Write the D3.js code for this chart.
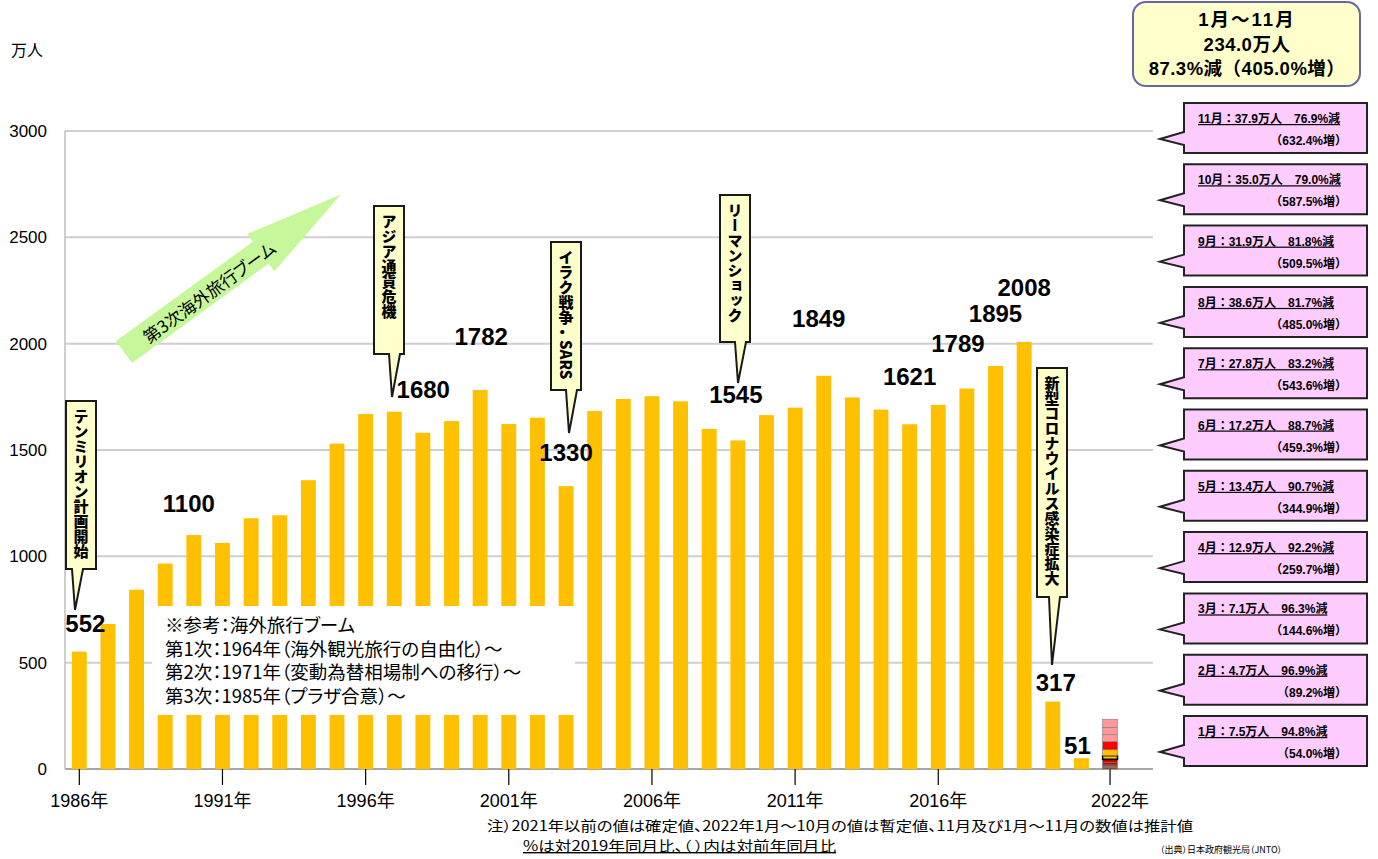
<!DOCTYPE html>
<html>
<head>
<meta charset="utf-8">
<script src="https://cdn.jsdelivr.net/npm/d3@7"></script>
<style>
  body { margin: 0; background: #fff; }
  text { font-family: "Liberation Sans", "Noto Sans CJK JP", sans-serif; }
  .jp { font-family: "Noto Sans CJK JP", sans-serif; font-feature-settings: "palt"; }
  .jpw { font-family: "Liberation Sans", "Noto Sans CJK JP", sans-serif; }
</style>
</head>
<body>
<svg id="chart" width="1378" height="859"></svg>
<script>
// 出国日本人数（万人）
const years = ["1986","1987","1988","1989","1990","1991","1992","1993","1994","1995",
  "1996","1997","1998","1999","2000","2001","2002","2003","2004","2005",
  "2006","2007","2008","2009","2010","2011","2012","2013","2014","2015",
  "2016","2017","2018","2019","2020","2021"];
const visitors = [552, 682, 843, 966, 1100, 1063, 1179, 1193, 1358, 1530,
  1669, 1680, 1581, 1636, 1782, 1622, 1652, 1330, 1683, 1740,
  1753, 1729, 1599, 1545, 1664, 1699, 1849, 1747, 1690, 1621,
  1712, 1789, 1895, 2008, 317, 51];

// 2022年 月別
const months = ["1月","2月","3月","4月","5月","6月","7月","8月","9月","10月","11月"];
const monthVisitors = [7.5, 4.7, 7.1, 12.9, 13.4, 17.2, 27.8, 38.6, 31.9, 35.0, 37.9];
const monthVs2019 = ["94.8%減","96.9%減","96.3%減","92.2%減","90.7%減","88.7%減",
  "83.2%減","81.7%減","81.8%減","79.0%減","76.9%減"];
const monthVsPrev = ["54.0%増","89.2%増","144.6%増","259.7%増","344.9%増","459.3%増",
  "543.6%増","485.0%増","509.5%増","587.5%増","632.4%増"];

const yTicks = [0, 500, 1000, 1500, 2000, 2500, 3000];
const xTickYears = ["1986","1991","1996","2001","2006","2011","2016","2022"];
const labelYears = ["1986","1990","1997","2000","2003","2009","2012","2015","2017","2018","2019","2020","2021"];

const events = [
  {text: "テンミリオン計画開始", year: "1986"},
  {text: "アジア通貨危機", year: "1997"},
  {text: "イラク戦争・SARS", year: "2003"},
  {text: "リーマンショック", year: "2009"},
  {text: "新型コロナウイルス感染症拡大", year: "2020"}
];
const boomNotes = ["※参考：海外旅行ブーム",
  "第1次：1964年（海外観光旅行の自由化）～",
  "第2次：1971年（変動為替相場制への移行）～",
  "第3次：1985年（プラザ合意）～"];

// layout ------------------------------------------------------------
const svg = d3.select("#chart");
const plotL = 65, plotR = 1153, plotT = 131, plotB = 769;

const x = d3.scaleBand()
  .domain(years.concat(["2022", ""]))
  .range([plotL, plotR])
  .paddingInner(0.48).paddingOuter(0.24);
const y = d3.scaleLinear().domain([0, 3000]).range([plotB, plotT]);
const cx = d => x(d) + x.bandwidth() / 2;

// label offsets from bar top (px)
const labelShift = {
  "1986": [6, -20], "1990": [-5, -23], "1997": [29, -14], "2000": [1, -45],
  "2003": [0, -25], "2009": [-2, -37], "2012": [-5, -49], "2015": [0, -39],
  "2017": [-9, -37], "2018": [0, -44], "2019": [0, -46], "2020": [3, -11], "2021": [-4, -4]
};
// callout boxes: left, top, height, tip
const eventBox = [
  {x: 66, y: 401, h: 168, tip: [75, 610]},
  {x: 374, y: 206, h: 148, tip: [392, 397]},
  {x: 551, y: 242, h: 148, tip: [569, 433]},
  {x: 720, y: 195, h: 147, tip: [738, 383]},
  {x: 1037, y: 368, h: 229, tip: [1052, 665]}
];
const monthColor = ["#993300","#993300","#993300","#C00000","#C00000","#FFC000",
  "#FFC000","#FF0000","#FF9999","#FF9999","#FF9999"];

// grid
svg.append("g").selectAll("line").data(yTicks).join("line")
  .attr("x1", plotL).attr("x2", plotR)
  .attr("y1", d => y(d)).attr("y2", d => y(d))
  .attr("stroke", d => d === 0 ? "#A6A6A6" : "#CFCFCF").attr("stroke-width", 2);
svg.append("line").attr("x1", plotL).attr("x2", plotL).attr("y1", plotT).attr("y2", plotB)
  .attr("stroke", "#BFBFBF").attr("stroke-width", 1.5);

svg.append("g").selectAll("text").data(yTicks).join("text")
  .attr("x", 47).attr("y", d => y(d) + 6)
  .attr("text-anchor", "end").attr("font-size", 17).text(d => d);

svg.append("text").attr("class", "jp").attr("x", 11).attr("y", 56)
  .attr("font-size", 16).text("万人");

// x ticks
svg.append("g").selectAll("line").data(xTickYears).join("line")
  .attr("x1", cx).attr("x2", cx).attr("y1", plotB).attr("y2", plotB + 16)
  .attr("stroke", "#000").attr("stroke-width", 1.2);
svg.append("g").selectAll("text").data(xTickYears).join("text")
  .attr("x", d => cx(d) + (d === "2022" ? 10 : 0)).attr("y", 807)
  .attr("text-anchor", "middle").attr("font-size", 18)
  .text(d => d + "年");

// bars
svg.append("g").selectAll("rect").data(years).join("rect")
  .attr("x", d => x(d)).attr("width", x.bandwidth())
  .attr("y", (d, i) => y(visitors[i]))
  .attr("height", (d, i) => plotB - y(visitors[i]))
  .attr("fill", "#FFC000");

// 2022 stacked months
const cum = d3.cumsum(monthVisitors);
svg.append("g").selectAll("rect").data(months).join("rect")
  .attr("x", x("2022")).attr("width", x.bandwidth())
  .attr("y", (d, i) => y(cum[i]))
  .attr("height", (d, i) => y(cum[i] - monthVisitors[i]) - y(cum[i]))
  .attr("fill", (d, i) => monthColor[i])
  .attr("stroke", (d, i) => i === 5 ? "#000" : "#7F7F7F")
  .attr("stroke-width", (d, i) => i === 5 ? 1.5 : 0.6);

// 参考 box
const nb = svg.append("g");
nb.append("rect").attr("x", 152).attr("y", 606).attr("width", 423).attr("height", 109)
  .attr("fill", "#fff");
nb.selectAll("text").data(boomNotes).join("text")
  .attr("class", "jp").attr("x", 165).attr("y", (d, i) => 632 + i * 23.5)
  .attr("font-size", 18.5).text(d => d);

// value labels
svg.append("g").selectAll("text").data(labelYears).join("text")
  .attr("x", d => cx(d) + labelShift[d][0])
  .attr("y", d => y(visitors[years.indexOf(d)]) + labelShift[d][1])
  .attr("text-anchor", "middle").attr("font-size", 24).attr("font-weight", "bold")
  .text(d => visitors[years.indexOf(d)]);

// event callouts
const ev = svg.append("g").selectAll("g").data(events).join("g");
ev.append("path")
  .attr("d", (d, i) => {
    const b = eventBox[i], w = 30, bx = b.tip[0];
    return `M${b.x},${b.y}H${b.x + w}V${b.y + b.h}H${bx + 8}L${b.tip[0]},${b.tip[1]}L${bx - 3},${b.y + b.h}H${b.x}Z`;
  })
  .attr("fill", "#FFFFCC").attr("stroke", "#1a1a1a").attr("stroke-width", 2);
ev.append("text")
  .attr("class", "jp")
  .attr("x", (d, i) => eventBox[i].x + 15)
  .attr("y", (d, i) => eventBox[i].y + 8)
  .style("writing-mode", "vertical-rl")
  .attr("font-size", 15).attr("font-weight", 900)
  .text(d => d.text);

// boom arrow
const L = 268, sw = 27, hw = 46, hl = 99;
const arrow = svg.append("g").attr("transform", "translate(124,352) rotate(-36)");
arrow.append("path")
  .attr("d", `M0,${-sw/2}H${L-hl}V${-hw/2}L${L},0L${L-hl},${hw/2}V${sw/2}H0Z`)
  .attr("fill", "#C6F79A");
arrow.append("text").attr("class", "jp")
  .attr("x", 104).attr("y", 1).attr("dominant-baseline", "central")
  .attr("text-anchor", "middle").attr("font-size", 17)
  .text("第3次海外旅行ブーム");

// month callouts
const mc = svg.append("g").selectAll("g").data(months).join("g")
  .attr("transform", (d, i) => `translate(1184,${716 - i * 61.3})`);
mc.append("path")
  .attr("d", "M0,0H183V50H0V42L-24,36L0,29Z")
  .attr("fill", "#FFCCFF").attr("stroke", "#222").attr("stroke-width", 2);
mc.append("text").attr("class", "jpw")
  .attr("x", 14).attr("y", 20).attr("font-size", 12).attr("font-weight", "bold")
  .attr("text-decoration", "underline")
  .text((d, i) => `${d}：${monthVisitors[i].toFixed(1)}万人　${monthVs2019[i]}`);
mc.append("text").attr("class", "jpw")
  .attr("x", 163).attr("y", 42).attr("text-anchor", "end")
  .attr("font-size", 12).attr("font-weight", "bold")
  .text((d, i) => `（${monthVsPrev[i]}）`);

// total box
const tb = svg.append("g");
tb.append("rect").attr("x", 1133).attr("y", 2).attr("width", 227).attr("height", 84)
  .attr("rx", 13).attr("fill", "#FFFFCC").attr("stroke", "#6666AA").attr("stroke-width", 2);
const total = d3.sum(monthVisitors);
tb.selectAll("text")
  .data(["1月～11月", total.toFixed(1) + "万人", "87.3%減（405.0%増）"]).join("text")
  .attr("class", "jpw").attr("x", 1247).attr("y", (d, i) => 26 + i * 24.5)
  .attr("text-anchor", "middle").attr("font-size", 18.5).attr("font-weight", "bold")
  .attr("letter-spacing", (d, i) => i === 0 ? 2 : 0.5)
  .text(d => d);

// notes
svg.append("text").attr("class", "jp").attr("x", 487).attr("y", 831)
  .attr("font-size", 14).attr("textLength", 706).attr("lengthAdjust", "spacingAndGlyphs")
  .text("注）2021年以前の値は確定値、2022年1月～10月の値は暫定値、11月及び1月～11月の数値は推計値");
svg.append("text").attr("class", "jp").attr("x", 523).attr("y", 851)
  .attr("font-size", 14).attr("textLength", 313).attr("lengthAdjust", "spacingAndGlyphs")
  .attr("text-decoration", "underline")
  .text("%は対2019年同月比、（ ）内は対前年同月比");
svg.append("text").attr("class", "jp").attr("x", 1160).attr("y", 853)
  .attr("font-size", 9).text("（出典）日本政府観光局（JNTO）");
</script>
</body>
</html>
